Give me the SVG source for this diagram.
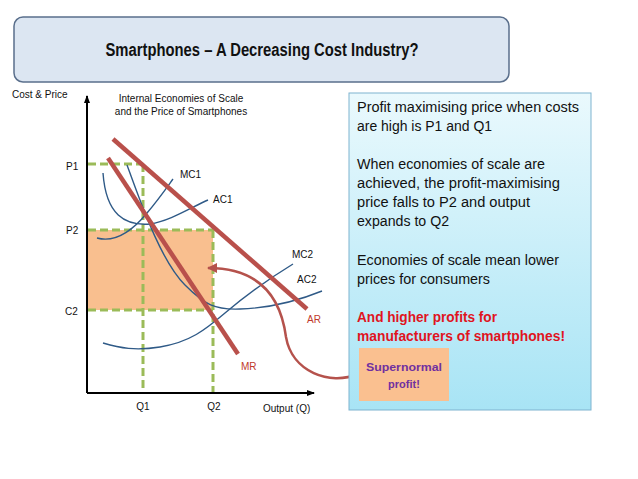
<svg xmlns="http://www.w3.org/2000/svg" width="638" height="479" viewBox="0 0 638 479">
<defs>
<linearGradient id="boxg" x1="0" y1="0" x2="0" y2="1">
<stop offset="0" stop-color="#eaf9fd"/>
<stop offset="1" stop-color="#a8e4f5"/>
</linearGradient>
<marker id="axh" markerWidth="8" markerHeight="8" refX="7" refY="4" orient="auto" markerUnits="userSpaceOnUse">
<path d="M0,1 L8,4 L0,7 Z" fill="#000"/>
</marker>
<marker id="rh" markerWidth="12" markerHeight="12" refX="9" refY="6" orient="auto" markerUnits="userSpaceOnUse">
<path d="M0,1 L10,6 L0,11 Z" fill="#b5524c"/>
</marker>
</defs>
<style>
.lbl{font-family:"Liberation Sans",Arial,sans-serif;font-size:10px;fill:#111}
.red{fill:#c0392b}
.dash{stroke:#9bbb59;stroke-width:3;stroke-dasharray:8 4;fill:none}
.cur{stroke:#2f5a87;stroke-width:1.4;fill:none}
.rl{stroke:#b9504b;stroke-width:4.5;fill:none;stroke-linecap:butt}
.bt{font-family:"Liberation Sans",Arial,sans-serif;font-size:14px;fill:#111}
</style>
<rect width="638" height="479" fill="#fff"/>
<g id="title">
<rect x="14" y="17" width="495" height="65" rx="9" fill="#dce6f2" stroke="#5a6f8c" stroke-width="1.5"/>
<text x="262" y="56" text-anchor="middle" font-family="'Liberation Sans',Arial,sans-serif" font-weight="bold" font-size="17.5" fill="#111" textLength="313" lengthAdjust="spacingAndGlyphs">Smartphones – A Decreasing Cost Industry?</text>
</g>
<g id="chart">
<rect id="profit-area" x="88" y="230" width="125" height="80" fill="#f9bf8f"/>
<g id="guides">
<path class="dash" d="M88 164 H143 M143 164 V393"/>
<path class="dash" d="M88 230 H213 M213 230 V393"/>
<path class="dash" d="M88 310 H213"/>
</g>
<g id="axes">
<line x1="87" y1="393" x2="87" y2="96" stroke="#000" stroke-width="2" marker-end="url(#axh)"/>
<line x1="87" y1="393" x2="314" y2="393" stroke="#000" stroke-width="2" marker-end="url(#axh)"/>
</g>
<g id="curves">
<path id="AC1" class="cur" d="M103 173 C106 215 125 226 150 224 C170 221 190 208 208 200"/>
<path id="MC1" class="cur" d="M97 238 C115 243 133 230 147 213 C158 200 165 190 173 179"/>
<path id="AC2" class="cur" d="M127 165 C140 200 160 260 185 285 C205 305 215 310 240 309 C270 308 300 300 322 291"/>
<path id="MC2" class="cur" d="M103 343 C120 348 135 351 160 347 C190 342 205 330 225 313 C250 292 270 278 293 264"/>
</g>
<g id="demand">
<line id="AR" class="rl" x1="113" y1="139" x2="307" y2="309"/>
<line id="MR" class="rl" x1="108" y1="158" x2="238" y2="354"/>
</g>
<g id="labels">
<text class="lbl" x="12" y="98">Cost &amp; Price</text>
<text class="lbl" x="181" y="102" text-anchor="middle">Internal Economies of Scale</text>
<text class="lbl" x="181" y="115" text-anchor="middle">and the Price of Smartphones</text>
<text class="lbl" x="66" y="170">P1</text>
<text class="lbl" x="66" y="234">P2</text>
<text class="lbl" x="65" y="315">C2</text>
<text class="lbl" x="143" y="410" text-anchor="middle">Q1</text>
<text class="lbl" x="214" y="410" text-anchor="middle">Q2</text>
<text class="lbl" x="263" y="412">Output (Q)</text>
<text class="lbl" x="180" y="178">MC1</text>
<text class="lbl" x="213" y="203">AC1</text>
<text class="lbl" x="292" y="258">MC2</text>
<text class="lbl" x="297" y="283">AC2</text>
<text class="lbl red" x="307" y="323">AR</text>
<text class="lbl red" x="241" y="370">MR</text>
</g>
</g>
<g id="connectors">
<path d="M358 374 C330 386 292 372 286 337 C280 292 255 268 208 268" fill="none" stroke="#b5524c" stroke-width="2.5" marker-end="url(#rh)"/>
</g>
<g id="textbox">
<rect x="349" y="93" width="242" height="317" fill="url(#boxg)" stroke="#7fb3cf" stroke-width="1"/>
<text class="bt" x="357" y="112" textLength="222" lengthAdjust="spacingAndGlyphs">Profit maximising price when costs</text>
<text class="bt" x="357" y="131" textLength="135" lengthAdjust="spacingAndGlyphs">are high is P1 and Q1</text>
<text class="bt" x="357" y="169" textLength="188" lengthAdjust="spacingAndGlyphs">When economies of scale are</text>
<text class="bt" x="357" y="188" textLength="203" lengthAdjust="spacingAndGlyphs">achieved, the profit-maximising</text>
<text class="bt" x="357" y="207" textLength="173" lengthAdjust="spacingAndGlyphs">price falls to P2 and output</text>
<text class="bt" x="357" y="226" textLength="92" lengthAdjust="spacingAndGlyphs">expands to Q2</text>
<text class="bt" x="357" y="265" textLength="202" lengthAdjust="spacingAndGlyphs">Economies of scale mean lower</text>
<text class="bt" x="357" y="284" textLength="133" lengthAdjust="spacingAndGlyphs">prices for consumers</text>
<text class="bt" x="357" y="322" font-weight="bold" style="fill:#e0141e" textLength="140" lengthAdjust="spacingAndGlyphs">And higher profits for</text>
<text class="bt" x="357" y="341" font-weight="bold" style="fill:#e0141e" textLength="208" lengthAdjust="spacingAndGlyphs">manufacturers of smartphones!</text>
</g>
<g id="supernormal">
<rect x="359" y="348" width="90" height="53" fill="#fac090"/>
<text x="404" y="371" text-anchor="middle" font-family="'Liberation Sans',Arial,sans-serif" font-weight="bold" font-size="11" fill="#7030a0" textLength="76" lengthAdjust="spacingAndGlyphs">Supernormal</text>
<text x="404" y="388" text-anchor="middle" font-family="'Liberation Sans',Arial,sans-serif" font-weight="bold" font-size="11" fill="#7030a0">profit!</text>
</g>
</svg>
